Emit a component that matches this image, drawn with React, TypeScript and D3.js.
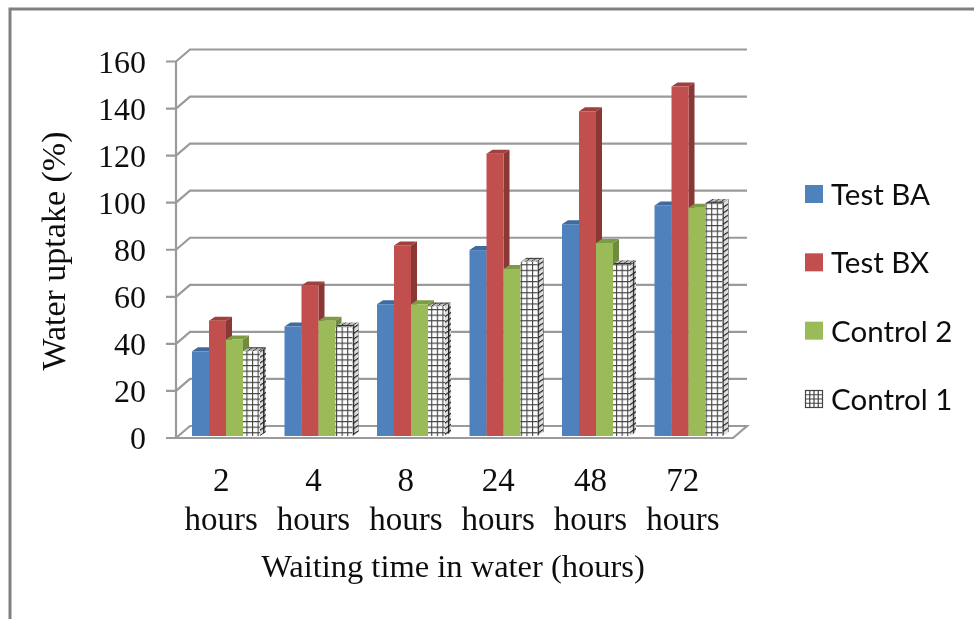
import { useEffect, useRef } from "react";
import * as d3 from "d3";

const categories = ["2", "4", "8", "24", "48", "72"];
const seriesNames = ["Test BA", "Test BX", "Control 2", "Control 1"];
const testBA = [36, 46.5, 56, 79, 90, 98];
const testBX = [49, 64, 81, 120, 138, 148.5];
const control2 = [41, 49, 56, 71, 82, 97];
const control1 = [36, 46.5, 55, 74, 73, 99];
const yTicks = [0, 20, 40, 60, 80, 100, 120, 140, 160];

const seriesValues = [testBA, testBX, control2, control1];
const fronts = ["#4f81bd", "#c0504d", "#9bbb59", "url(#hatch)"];
const tops = ["#3f6a9e", "#9e3f3c", "#7d9a45", "url(#hatchTop)"];
const sides = ["#385d8a", "#8a3735", "#6f8a3f", "url(#hatchSide)"];

const serif = "'Liberation Serif', serif";
const sans = "Lato, sans-serif";

function App() {
  const ref = useRef<SVGSVGElement>(null);

  useEffect(() => {
    if (!ref.current) return;
    const svg = d3.select(ref.current);
    svg.selectAll("*").remove();

    const x0 = 176;
    const x1 = 733;
    const backDx = 14;
    const backDy = 12;
    const gridColor = "#9a9a9a";

    const x = d3.scaleBand().domain(categories).range([x0, 731]);
    const xLabel = d3.scaleBand().domain(categories).range([175, 729]);
    const y = d3.scaleLinear().domain([0, 160]).range([438, 61.5]);
    const yBar = d3.scaleLinear().domain([0, 160]).range([436, 59.5]);

    const defs = svg.append("defs");
    defs
      .append("filter")
      .attr("id", "soft")
      .attr("x", 0)
      .attr("y", 0)
      .attr("width", 1)
      .attr("height", 1)
      .attr("filterUnits", "objectBoundingBox")
      .append("feGaussianBlur")
      .attr("stdDeviation", 0.45);
    const hatch = (
      id: string,
      transform: string,
      bg: string,
      stroke: string,
      w: number
    ) => {
      const p = defs
        .append("pattern")
        .attr("id", id)
        .attr("patternUnits", "userSpaceOnUse")
        .attr("width", 5.6)
        .attr("height", 5.6)
        .attr("patternTransform", transform);
      p.append("rect").attr("width", 5.6).attr("height", 5.6).attr("fill", bg);
      p.append("path")
        .attr("d", "M0 0H5.6M0 0V5.6")
        .attr("stroke", stroke)
        .attr("stroke-width", w);
    };
    hatch("hatch", "translate(0,1)", "#fff", "#444", 2.2);
    hatch("hatchSide", "skewY(-34)", "#ddd", "#222", 2.6);
    hatch("hatchTop", "skewX(-56)", "#bbb", "#333", 2.4);

    const root = svg.append("g").attr("filter", "url(#soft)");
    root
      .append("rect")
      .attr("width", 974)
      .attr("height", 619)
      .attr("fill", "#fff");

    // picture frame
    root
      .append("path")
      .attr("d", "M10 619V9H974")
      .attr("fill", "none")
      .attr("stroke", "#808080")
      .attr("stroke-width", 3);

    // walls and gridlines
    yTicks.forEach((t) => {
      const py = y(t);
      if (t > 0) {
        root
          .append("path")
          .attr(
            "d",
            `M166 ${py}H${x0}L${x0 + backDx} ${py - backDy}H${x1 + backDx}`
          )
          .attr("fill", "none")
          .attr("stroke", gridColor)
          .attr("stroke-width", 2.2);
      }
      root
        .append("text")
        .attr("x", 146)
        .attr("y", py + 11)
        .attr("text-anchor", "end")
        .style("font-family", serif)
        .style("font-size", "32px")
        .style("fill", "#111")
        .text(t);
    });
    root
      .append("line")
      .attr("x1", x0)
      .attr("x2", x0)
      .attr("y1", y(160))
      .attr("y2", y(0))
      .attr("stroke", gridColor)
      .attr("stroke-width", 2.2);
    root
      .append("path")
      .attr(
        "d",
        `M166 ${y(0)}H${x1}L${x1 + backDx} ${y(0) - backDy}H${x0 + backDx}L${x0} ${y(0)}`
      )
      .attr("fill", "none")
      .attr("stroke", gridColor)
      .attr("stroke-width", 2.2);

    // bars, front to side
    const barW = 17;
    const depth = 6;
    const rise = 4;
    categories.forEach((c, i) => {
      const start = x(c)! + 16;
      seriesValues.forEach((vals, s) => {
        const bx = start + s * barW;
        const top = yBar(vals[i]);
        const base = yBar(0);
        const g = root.append("g");
        g.append("path")
          .attr(
            "d",
            `M${bx + barW} ${top}L${bx + barW + depth} ${top - rise}V${base - rise}L${bx + barW} ${base}Z`
          )
          .attr("fill", sides[s]);
        g.append("path")
          .attr(
            "d",
            `M${bx} ${top}L${bx + depth} ${top - rise}H${bx + barW + depth}L${bx + barW} ${top}Z`
          )
          .attr("fill", tops[s]);
        g.append("rect")
          .attr("x", bx)
          .attr("y", top)
          .attr("width", barW)
          .attr("height", base - top)
          .attr("fill", fronts[s]);
      });
    });

    // category labels
    categories.forEach((c) => {
      const cx = xLabel(c)! + xLabel.bandwidth() / 2;
      [c, "hours"].forEach((line, k) => {
        root
          .append("text")
          .attr("x", cx)
          .attr("y", 491 + k * 39)
          .attr("text-anchor", "middle")
          .style("font-family", serif)
          .style("font-size", "33px")
          .style("fill", "#111")
          .text(line);
      });
    });

    // axis titles
    root
      .append("text")
      .attr("x", 453)
      .attr("y", 577)
      .attr("text-anchor", "middle")
      .style("font-family", serif)
      .style("font-size", "32.5px")
      .style("fill", "#111")
      .text("Waiting time in water (hours)");
    root
      .append("text")
      .attr("transform", "translate(65,251) rotate(-90)")
      .attr("text-anchor", "middle")
      .style("font-family", serif)
      .style("font-size", "34px")
      .style("fill", "#111")
      .text("Water uptake (%)");

    // legend
    const legendY = d3
      .scalePoint()
      .domain(seriesNames)
      .range([194, 399]);
    seriesNames.forEach((name, s) => {
      const ly = legendY(name)!;
      if (s < 3) {
        root
          .append("rect")
          .attr("x", 805)
          .attr("y", ly - 9)
          .attr("width", 18)
          .attr("height", 18)
          .attr("fill", fronts[s]);
      } else {
        const cell = root.append("g");
        cell
          .append("rect")
          .attr("x", 805.5)
          .attr("y", ly - 8.5)
          .attr("width", 17)
          .attr("height", 17)
          .attr("fill", "#fff")
          .attr("stroke", "#444")
          .attr("stroke-width", 1.2);
        d3.range(1, 4).forEach((k) => {
          cell
            .append("path")
            .attr(
              "d",
              `M${805.5 + (k * 17) / 4} ${ly - 8.5}v17M805.5 ${ly - 8.5 + (k * 17) / 4}h17`
            )
            .attr("stroke", "#444")
            .attr("stroke-width", 1.2);
        });
      }
      root
        .append("text")
        .attr("x", 831)
        .attr("y", ly + 11)
        .style("font-family", sans)
        .style("font-size", "29.5px")
        .style("fill", "#111")
        .text(name);
    });
  }, []);

  return (
    <svg
      ref={ref}
      width={974}
      height={619}
      viewBox="0 0 974 619"
      style={{ position: "absolute", left: 0, top: 0, background: "#fff" }}
    />
  );
}

export default App;
